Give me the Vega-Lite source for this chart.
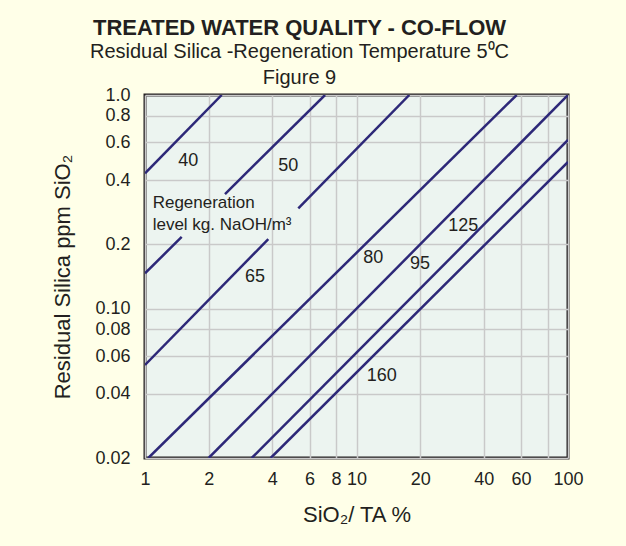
{
  "$schema": "https://vega.github.io/schema/vega-lite/v6.json",
  "width": 423,
  "height": 363,
  "autosize": {"type": "none"},
  "padding": {"left": 145, "top": 95, "right": 58, "bottom": 88},
  "background": "#FFFFE8",
  "config": {
    "font": "Liberation Sans",
    "view": {"fill": "#ECF4F0", "stroke": "#231F20", "strokeWidth": 3}
  },
  "title": {
    "text": "TREATED WATER QUALITY - CO-FLOW",
    "subtitle": ["Residual Silica -Regeneration Temperature 5⁰C", "Figure 9"],
    "fontSize": 22,
    "fontWeight": "bold",
    "subtitleFontSize": 20,
    "subtitleLineHeight": 26,
    "subtitlePadding": 2,
    "anchor": "middle",
    "frame": "group",
    "dx": -57,
    "offset": -3,
    "color": "#231F20",
    "subtitleColor": "#231F20",
    "font": "Liberation Sans",
    "subtitleFont": "Liberation Sans"
  },
  "datasets": {
    "lines": [
      {"seg": "A", "x": 1, "y": 0.43},
      {"seg": "A", "x": 2.305, "y": 1.0},
      {"seg": "B1", "x": 1, "y": 0.1464},
      {"seg": "B1", "x": 1.491, "y": 0.2166},
      {"seg": "B2", "x": 2.389, "y": 0.344},
      {"seg": "B2", "x": 7.1, "y": 1.0},
      {"seg": "C1", "x": 1, "y": 0.0545},
      {"seg": "C1", "x": 3.828, "y": 0.2117},
      {"seg": "C2", "x": 5.307, "y": 0.2945},
      {"seg": "C2", "x": 17.77, "y": 1.0},
      {"seg": "D", "x": 1.0366, "y": 0.02},
      {"seg": "D", "x": 57.2, "y": 1.0},
      {"seg": "E", "x": 2.0, "y": 0.02},
      {"seg": "E", "x": 100, "y": 1.0},
      {"seg": "F", "x": 3.196, "y": 0.02},
      {"seg": "F", "x": 100, "y": 0.616},
      {"seg": "G", "x": 3.929, "y": 0.02},
      {"seg": "G", "x": 100, "y": 0.486}
    ],
    "labels": [
      {"x": 1.602, "y": 0.4927, "t": "40"},
      {"x": 4.76, "y": 0.4654, "t": "50"},
      {"x": 3.312, "y": 0.1411, "t": "65"},
      {"x": 12.0, "y": 0.172, "t": "80"},
      {"x": 19.96, "y": 0.1618, "t": "95"},
      {"x": 32.0, "y": 0.2436, "t": "125"},
      {"x": 13.15, "y": 0.0484, "t": "160"}
    ],
    "notes": [
      {"x": 1.087, "y": 0.3112, "t": "Regeneration"},
      {"x": 1.087, "y": 0.2463, "t": "level kg. NaOH/m³"}
    ]
  },
  "layer": [
    {
      "data": {"name": "lines"},
      "mark": {"type": "line", "color": "#2D2878", "strokeWidth": 2.5, "clip": true},
      "encoding": {
        "x": {
          "field": "x", "type": "quantitative",
          "scale": {"type": "log", "domain": [1, 100], "nice": false},
          "axis": {
            "values": [1, 2, 4, 6, 8, 10, 20, 40, 60, 80, 100],
            "format": "d",
            "labelExpr": "datum.value == 80 ? '' : datum.label",
            "grid": true, "gridColor": "#C9C9C9", "gridWidth": 1.5,
            "domain": false, "ticks": false,
            "labelFontSize": 18, "labelPadding": 12, "labelColor": "#231F20",
            "labelFlush": false, "labelOverlap": false,
            "title": "SiO₂/ TA %", "titleFontSize": 22, "titleFontWeight": "normal",
            "titleColor": "#231F20", "titlePadding": 16
          }
        },
        "y": {
          "field": "y", "type": "quantitative",
          "scale": {"type": "log", "domain": [0.02, 1], "nice": false},
          "axis": {
            "values": [0.02, 0.04, 0.06, 0.08, 0.1, 0.2, 0.4, 0.6, 0.8, 1],
            "labelExpr": "datum.value == 1 ? '1.0' : datum.value == 0.1 ? '0.10' : format(datum.value, '.2~f')",
            "grid": true, "gridColor": "#C9C9C9", "gridWidth": 1.5,
            "domain": false, "ticks": false,
            "labelFontSize": 18, "labelPadding": 15, "labelColor": "#231F20",
            "labelFlush": false, "labelOverlap": false,
            "title": "Residual Silica ppm SiO₂", "titleFontSize": 22, "titleFontWeight": "normal",
            "titleColor": "#231F20", "titlePadding": 20
          }
        },
        "detail": {"field": "seg"}
      }
    },
    {
      "data": {"name": "labels"},
      "mark": {"type": "text", "fontSize": 18, "color": "#231F20"},
      "encoding": {
        "x": {"field": "x", "type": "quantitative"},
        "y": {"field": "y", "type": "quantitative"},
        "text": {"field": "t"}
      }
    },
    {
      "data": {"name": "notes"},
      "mark": {"type": "text", "fontSize": 17, "align": "left", "color": "#231F20"},
      "encoding": {
        "x": {"field": "x", "type": "quantitative"},
        "y": {"field": "y", "type": "quantitative"},
        "text": {"field": "t"}
      }
    }
  ]
}
